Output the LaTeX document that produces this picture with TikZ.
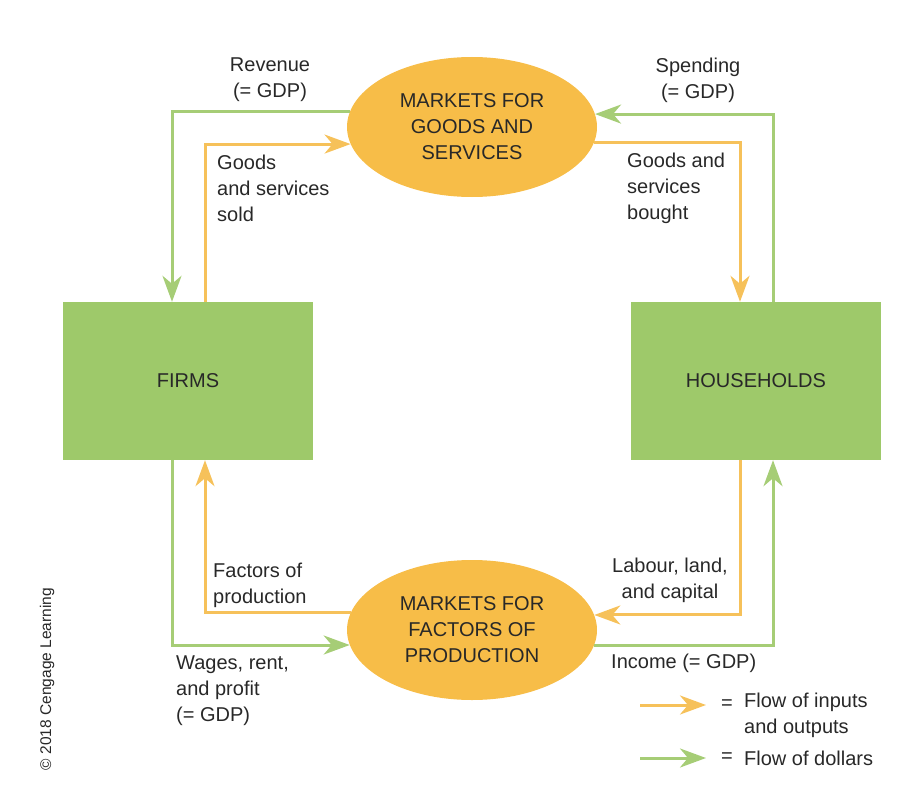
\documentclass[tikz,border=0pt]{standalone}
\usepackage{fontspec}
\setmainfont{Liberation Sans}
\usetikzlibrary{shapes.geometric,arrows.meta,positioning,calc}
\definecolor{boxgreen}{RGB}{158,201,106}
\definecolor{linegreen}{RGB}{166,205,118}
\definecolor{ellorange}{RGB}{247,189,72}
\definecolor{lineorange}{RGB}{246,193,90}
\definecolor{txtgray}{RGB}{40,40,40}
\begin{document}
\begin{tikzpicture}[x=1pt, y=-1pt,
    every node/.style={font=\fontsize{20}{26}\selectfont, text=txtgray, inner sep=0},
    sector/.style={fill=boxgreen, minimum width=250pt, minimum height=158pt},
    market/.style={ellipse, fill=ellorange, minimum width=250pt,
      minimum height=140pt, align=center},
    flowtip/.style={-{Stealth[length=26pt,width=19pt,inset=8pt]}},
    goods/.style={flowtip, draw=lineorange, line width=3pt},
    dollars/.style={flowtip, draw=linegreen, line width=3pt},
    lbl/.style={align=left}]
  \useasboundingbox (0,0) rectangle (916,800);

  % the four blocks
  \node[sector] (firms) at (188,381) {FIRMS};
  \node[sector] (house) at (756,381) {HOUSEHOLDS};
  \node[market] (mgoods) at (472,127) {MARKETS FOR\\GOODS AND\\SERVICES};
  \node[market] (mfact) at (472,630) {MARKETS FOR\\FACTORS OF\\PRODUCTION};

  % x positions of the vertical flows
  \coordinate (gl) at (172,0);
  \coordinate (ol) at (205,0);
  \coordinate (or) at (740,0);
  \coordinate (gr) at (773,0);

  % upper loop
  \draw[dollars] (mgoods.173.5) -| (gl |- firms.north);
  \draw[goods] (ol |- firms.north) |- (mgoods.-172.5);
  \draw[goods] (mgoods.-7.5) -| (or |- house.north);
  \draw[dollars] (gr |- house.north) |- (mgoods.6.5);

  % lower loop
  \draw[goods] (mfact.172.5) -| (ol |- firms.south);
  \draw[dollars] (gl |- firms.south) |- (mfact.-173);
  \draw[goods] (or |- house.south) |- (mfact.7.5);
  \draw[dollars] (mfact.-7) -| (gr |- house.south);

  % labels
  \node[align=center] (rev) at (270,80) {Revenue\\(= GDP)};
  \node[align=center] (spend) at (698,80) {Spending\\(= GDP)};
  \node[lbl, anchor=west] (sold) at (217,188) {Goods\\and services\\sold};
  \node[lbl, anchor=west] (bought) at (627,188) {Goods and\\services\\bought};
  \node[lbl, anchor=west] (factors) at (213,585) {Factors of\\production};
  \node[align=center] (labour) at (670,580) {Labour, land,\\and capital};
  \node[lbl, anchor=west] (wages) at (176,691) {Wages, rent,\\and profit\\(= GDP)};
  \node[lbl, anchor=west] (income) at (611,663) {Income (= GDP)};

  % legend
  \coordinate (lgoA) at (640,705);
  \coordinate (lgoB) at (706,705);
  \coordinate (lggA) at (640,758);
  \coordinate (lggB) at (706,758);
  \draw[goods] (lgoA) -- (lgoB);
  \draw[dollars] (lggA) -- (lggB);
  \node[anchor=west] (eqo) at (721,705) {=};
  \node[lbl, anchor=north west] (lgo) at (744,693) {Flow of inputs\\and outputs};
  \node[anchor=west] (eqg) at (721,758) {=};
  \node[anchor=west] (lgg) at (744,758) {Flow of dollars};

  \node[rotate=90, font=\fontsize{15.5}{17}\selectfont] (copy) at (47,679)
    {© 2018 Cengage Learning};
\end{tikzpicture}
\end{document}
